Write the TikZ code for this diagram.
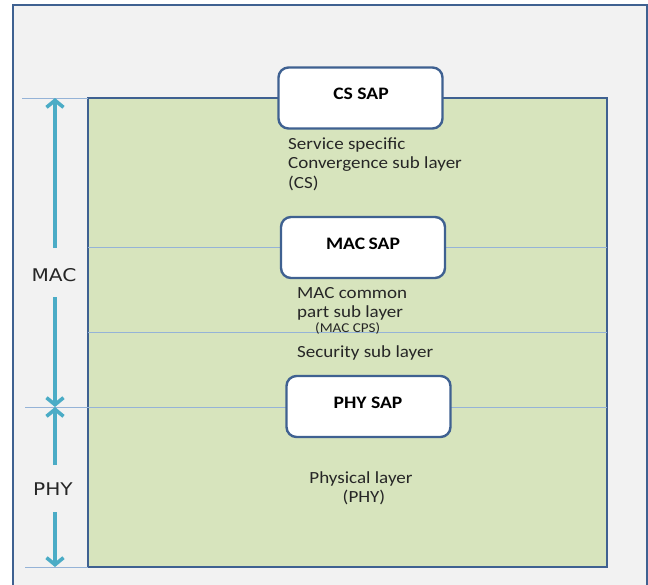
\documentclass[tikz,border=0pt]{standalone}
\usepackage{fontspec}
\setmainfont{Carlito}
\newfontfamily\bodyfont[FakeStretch=1.12]{Carlito}
\newfontfamily\sidefont[FakeStretch=1.15]{DejaVu Sans}
\usetikzlibrary{arrows.meta}
\definecolor{framefill}{HTML}{F2F2F2}
\definecolor{frameline}{HTML}{3F6191}
\definecolor{layerfill}{HTML}{D7E4BD}
\definecolor{sepline}{HTML}{95B3D7}
\definecolor{dimarrow}{HTML}{4BACC6}
\definecolor{txt}{HTML}{262626}
\tikzset{
  sapbox/.style={draw=frameline, line width=2.4pt, fill=white, rounded corners=10pt,
    minimum width=164pt, minimum height=61pt, inner sep=0pt},
  saptext/.style={font=\bodyfont\bfseries\fontsize{17.5}{19}\selectfont, text=black,
    inner sep=0pt, anchor=base},
  sep/.style={draw=sepline, line width=0.9pt},
  dim/.style={draw=dimarrow, line width=3.6pt,
    -{Straight Barb[length=7pt,width=17pt,line width=3.6pt]}},
  sidelbl/.style={font=\sidefont\fontsize{17.5}{19}\selectfont, text=txt, inner sep=0pt, anchor=base},
  body/.style={font=\bodyfont\fontsize{17}{19.5}\selectfont, text=txt, inner sep=0pt},
}
\begin{document}
\begin{tikzpicture}[x=1pt,y=-1pt]
  \useasboundingbox (0,0) rectangle (648,584);
  \fill[white] (0,0) rectangle (648,584);
  % outer frame, running past the lower edge
  \begin{scope}
    \clip (0,0) rectangle (648,584);
    \draw[frameline, line width=2.4pt, fill=framefill] (13,5) rectangle (647,600);
  \end{scope}

  % stack of layers
  \draw[frameline, line width=2.6pt, fill=layerfill] (88,98) rectangle (607,567);

  % boundary lines
  \draw[sep] (22,98) -- (88,98);
  \draw[sep] (88,247) -- (607,247);
  \draw[sep] (88,332) -- (607,332);
  \draw[sep] (25,407) -- (607,407);
  \draw[sep] (25,567) -- (88,567);

  % service access points
  \node[sapbox] (cssap) at (360.5,98) {};
  \node[sapbox] (macsap) at (363,247.5) {};
  \node[sapbox] (physap) at (368.5,406.5) {};
  \node[saptext] (cslbl) at (361,99) {CS SAP};
  \node[saptext] (macsaplbl) at (363,249) {MAC\kern-1pt\ SAP};
  \node[saptext] (physaplbl) at (368,408) {PHY SAP};

  % sub-layer descriptions
  \node[body, anchor=base west] (cs1) at (288,149) {Service specific};
  \node[body, anchor=base west] (cs2) at (288,168.5) {Convergence sub layer};
  \node[body, anchor=base west] (cs3) at (288,188) {(CS)};
  \node[body, anchor=base west] (cps1) at (297,298) {MAC common};
  \node[body, anchor=base west] (cps2) at (297,317.5) {part sub layer};
  \node[font=\bodyfont\fontsize{13.5}{15}\selectfont, text=txt, inner sep=0pt, anchor=west] (cpsabbr) at (315,328) {(MAC CPS)};
  \node[body, anchor=base west] (sectext) at (297,357) {Security sub layer};
  \node[body, anchor=base] (phy1) at (361,483) {Physical layer};
  \node[body, anchor=base] (phy2) at (364,502) {(PHY)};

  % MAC and PHY extents
  \node[sidelbl] (maclbl) at (54,281) {MAC};
  \node[sidelbl] (phylbl) at (53,495) {PHY};
  \coordinate (mactop) at (55,98);
  \coordinate (macupper) at (55,248);
  \coordinate (maclower) at (55,297);
  \coordinate (macbot) at (55,407);
  \coordinate (phyupper) at (55,465);
  \coordinate (phylower) at (55,512);
  \coordinate (phybot) at (55,567);
  \draw[dim] (macupper) -- (mactop);
  \draw[dim] (maclower) -- (macbot);
  \draw[dim] (phyupper) -- (macbot);
  \draw[dim] (phylower) -- (phybot);
\end{tikzpicture}
\end{document}
